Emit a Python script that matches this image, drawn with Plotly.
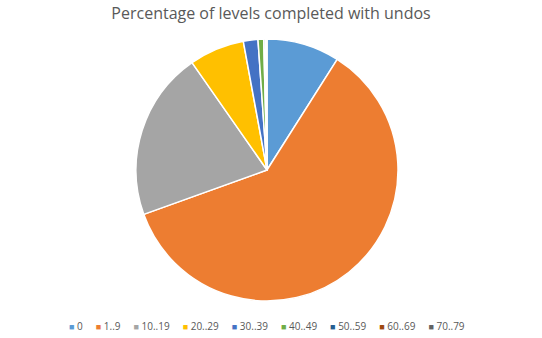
import plotly.graph_objects as go

categories = ["0", "1..9", "10..19", "20..29", "30..39", "40..49", "50..59", "60..69", "70..79"]
values = [9.0, 60.5, 20.8, 6.8, 1.8, 0.7, 0.2, 0.1, 0.1]
colors = ["#5B9BD5", "#ED7D31", "#A5A5A5", "#FFC000", "#4472C4", "#70AD47", "#255E91", "#9E480E", "#636363"]

fig = go.Figure(go.Pie(
    labels=categories,
    values=values,
    sort=False,
    direction="clockwise",
    rotation=0,
    textinfo="none",
    hoverinfo="label+percent",
    marker=dict(colors=colors, line=dict(color="white", width=1.5)),
))

# compact single-row legend built from the data arrays
gap = "&nbsp;" * 5
legend_text = gap.join(
    f'<span style="color:{c};font-size:9px">■</span>&nbsp;{lab}'
    for lab, c in zip(categories, colors)
)

fig.update_layout(
    width=542, height=338,
    margin=dict(l=0, r=8, t=39, b=37, autoexpand=False),
    paper_bgcolor="white",
    plot_bgcolor="white",
    title=dict(text="Percentage of levels completed with undos", x=0.5, xanchor="center",
               y=0.96, yanchor="middle",
               font=dict(family="Open Sans, Liberation Sans, sans-serif", size=16, color="#595959")),
    showlegend=False,
    annotations=[dict(text=legend_text, xref="paper", yref="paper", x=0.5, y=-0.095,
                      xanchor="center", yanchor="middle", showarrow=False,
                      font=dict(family="Open Sans, Liberation Sans, sans-serif", size=10, color="#595959"))],
)

fig.write_html("out.html")
